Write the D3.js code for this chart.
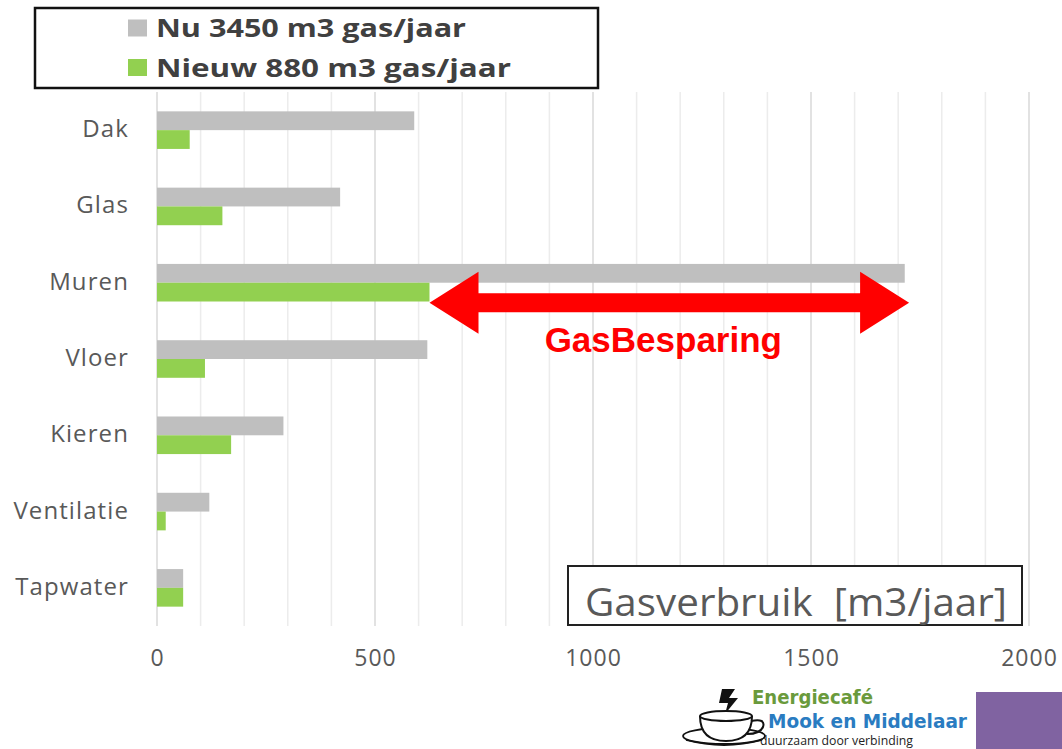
<!DOCTYPE html>
<html>
<head>
<meta charset="utf-8">
<script src="https://cdn.jsdelivr.net/npm/d3@7/dist/d3.min.js"></script>
<style>
  html, body { margin: 0; padding: 0; background: #fff; }
  svg { display: block; }
</style>
</head>
<body>
<svg id="chart" width="1062" height="749"></svg>
<script>
// ---------- DATA ----------
const categories = ["Dak", "Glas", "Muren", "Vloer", "Kieren", "Ventilatie", "Tapwater"];
const nuValues    = [590, 420, 1715, 620, 290, 120, 60];
const nieuwValues = [75, 150, 625, 110, 170, 20, 60];
const seriesNames = ["Nu 3450 m3 gas/jaar", "Nieuw 880 m3 gas/jaar"];
const xTicks = [0, 500, 1000, 1500, 2000];
const gridValues = d3.range(0, 2001, 100);
const axisTitle = "Gasverbruik  [m3/jaar]";
const arrowLabel = "GasBesparing";
const arrowRange = [625, 1725];   // Muren: nieuw -> nu
const arrowCategory = "Muren";

// ---------- SETUP ----------
const svg = d3.select("#chart");
const colors = { nu: "#bfbfbf", nieuw: "#92d050" };
const textColor = "#595959";

const x = d3.scaleLinear().domain([0, 2000]).range([157, 1029]);
const y = d3.scaleBand().domain(categories).range([92, 626]).padding(0);
const sub = d3.scaleBand().domain(["nu", "nieuw"]).range([0, y.bandwidth()]).paddingOuter(1.03).paddingInner(0);

// gridlines
svg.append("g").selectAll("line").data(gridValues).join("line")
  .attr("x1", d => x(d)).attr("x2", d => x(d))
  .attr("y1", 92).attr("y2", 626)
  .attr("stroke", d => (d % 500 === 0 ? "#d9d9d9" : "#ececec"))
  .attr("stroke-width", 1.5);

// bars
const rows = categories.map((c, i) => ({ c, nu: nuValues[i], nieuw: nieuwValues[i] }));
const gBars = svg.append("g");
["nu", "nieuw"].forEach(key => {
  gBars.selectAll("rect." + key).data(rows).join("rect")
    .attr("class", key)
    .attr("x", x(0))
    .attr("y", d => y(d.c) + sub(key))
    .attr("width", d => x(d[key]) - x(0))
    .attr("height", sub.bandwidth())
    .attr("fill", colors[key]);
});

// y labels
svg.append("g").selectAll("text").data(categories).join("text")
  .attr("x", 129)
  .attr("y", d => y(d) + y.bandwidth() / 2 + 7)
  .attr("text-anchor", "end")
  .attr("font-family", "Open Sans, sans-serif")
  .attr("font-size", 24)
  .attr("letter-spacing", 1.1)
  .attr("fill", textColor)
  .text(d => d);

// x axis tick labels
const xAxis = d3.axisBottom(x).tickValues(xTicks).tickFormat(d3.format("d")).tickSize(0).tickPadding(0);
const gx = svg.append("g").attr("transform", "translate(0,650)").call(xAxis);
gx.select(".domain").remove();
gx.selectAll("text")
  .attr("font-family", "Open Sans, sans-serif")
  .attr("font-size", 23)
  .attr("letter-spacing", 1)
  .attr("fill", textColor)
  .attr("dy", "0.71em");

// legend
const lg = svg.append("g");
lg.append("rect").attr("x", 35).attr("y", 8).attr("width", 563).attr("height", 80)
  .attr("fill", "#fff").attr("stroke", "#111").attr("stroke-width", 2.5);
const legendKeys = ["nu", "nieuw"];
legendKeys.forEach((k, i) => {
  const cy = 28 + i * 39.5;
  lg.append("rect").attr("x", 128).attr("y", cy - 8.5).attr("width", 19).attr("height", 17).attr("fill", colors[k]);
  lg.append("text").attr("x", 156).attr("y", cy + 9)
    .attr("font-family", "Open Sans, sans-serif").attr("font-weight", 700)
    .attr("font-size", 25).attr("fill", "#404040")
    .attr("textLength", i === 0 ? 310 : 355).attr("lengthAdjust", "spacingAndGlyphs")
    .text(seriesNames[i]);
});

// arrow annotation
const ay = y(arrowCategory) + y.bandwidth() / 2 + 20;
const ax1 = x(arrowRange[0]), ax2 = x(arrowRange[1]);
const hl = 49, hh = 31, sh = 9.5;
const arrowPts = [
  [ax1, ay], [ax1 + hl, ay - hh], [ax1 + hl, ay - sh], [ax2 - hl, ay - sh], [ax2 - hl, ay - hh],
  [ax2, ay], [ax2 - hl, ay + hh], [ax2 - hl, ay + sh], [ax1 + hl, ay + sh], [ax1 + hl, ay + hh]
];
svg.append("path").attr("d", d3.line()(arrowPts) + "Z").attr("fill", "#ff0000");
svg.append("text").attr("x", (ax1 + ax2) / 2 - 6).attr("y", ay + 49)
  .attr("text-anchor", "middle")
  .attr("font-family", "Liberation Sans, Arial, sans-serif").attr("font-weight", 700)
  .attr("font-size", 35).attr("fill", "#ff0000")
  .text(arrowLabel);

// axis title box
svg.append("rect").attr("x", 568).attr("y", 566).attr("width", 454).attr("height", 59)
  .attr("fill", "#fff").attr("stroke", "#222").attr("stroke-width", 2);
svg.append("text").attr("x", 585).attr("y", 616)
  .attr("font-family", "Open Sans, sans-serif").attr("font-size", 39).attr("fill", textColor)
  .style("white-space", "pre")
  .attr("textLength", 422).attr("lengthAdjust", "spacingAndGlyphs")
  .text(axisTitle);

// logo
const logo = svg.append("g");
logo.append("path").attr("d", "M722,689 L735,689 L729,698 L738,698 L725,714 L728,703 L719,703 Z").attr("fill", "#111");
logo.append("ellipse").attr("cx", 724).attr("cy", 736).attr("rx", 41).attr("ry", 8)
  .attr("fill", "none").attr("stroke", "#111").attr("stroke-width", 1.8);
logo.append("path").attr("d", "M686,740 Q724,750 762,740").attr("fill", "none").attr("stroke", "#111").attr("stroke-width", 1.8);
logo.append("path").attr("d", "M700,716 Q700,741 726,741 Q752,741 752,716").attr("fill", "#fff").attr("stroke", "#111").attr("stroke-width", 2);
logo.append("ellipse").attr("cx", 726).attr("cy", 716).attr("rx", 26).attr("ry", 5)
  .attr("fill", "#fff").attr("stroke", "#111").attr("stroke-width", 2);
logo.append("path").attr("d", "M751,721 Q766,718 763,727 Q760,734 747,734").attr("fill", "none").attr("stroke", "#111").attr("stroke-width", 2);
logo.append("text").attr("x", 752).attr("y", 704)
  .attr("font-family", "DejaVu Sans, sans-serif").attr("font-weight", 700).attr("font-size", 19)
  .attr("fill", "#6a9a3c").attr("textLength", 121).attr("lengthAdjust", "spacingAndGlyphs").text("Energiecafé");
logo.append("text").attr("x", 768).attr("y", 728)
  .attr("font-family", "DejaVu Sans, sans-serif").attr("font-weight", 700).attr("font-size", 20)
  .attr("fill", "#2a7cc1").attr("textLength", 199).attr("lengthAdjust", "spacingAndGlyphs").text("Mook en Middelaar");
logo.append("text").attr("x", 760).attr("y", 745)
  .attr("font-family", "Open Sans, sans-serif").attr("font-size", 12)
  .attr("fill", "#222").attr("textLength", 153).attr("lengthAdjust", "spacingAndGlyphs").text("duurzaam door verbinding");
svg.append("rect").attr("x", 976).attr("y", 692).attr("width", 86).attr("height", 57).attr("fill", "#8063a1");
</script>
</body>
</html>
